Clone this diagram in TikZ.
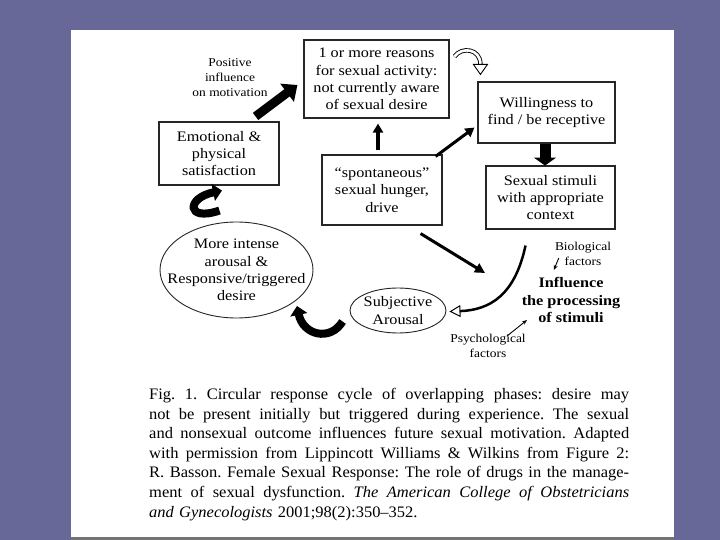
\documentclass[tikz,border=0pt]{standalone}
\usepackage{fontspec}
\setmainfont{Liberation Serif}[FakeStretch=1.12]
\newfontfamily\ketfont{Liberation Serif}[FakeStretch=1.03,Ligatures=TeX]
\usetikzlibrary{calc,positioning,arrows.meta,shapes.geometric}
\definecolor{latar}{RGB}{104,104,152}
\newcommand{\baris}[1]{{\spaceskip=0pt\relax\xspaceskip=0pt\relax\makebox[480pt][s]{#1}}\par}
\tikzset{
	kotak/.style={draw=black!85,line width=1.1pt,rectangle,align=center,inner sep=2pt,font=\fontsize{14.5}{17.4}\selectfont},
	elips/.style={draw=black!85,line width=0.9pt,ellipse,inner sep=0pt},
	isi/.style={align=center,inner sep=0pt,font=\fontsize{14.5}{17.4}\selectfont},
	kecil/.style={align=center,inner sep=0pt,font=\fontsize{12}{15}\selectfont},
	panahtebal/.style={line width=9pt,-{Triangle[length=13pt,width=22pt]}},
	panahlengkung/.style={line width=8pt,-{Triangle[length=9pt,width=17pt]}},
	panahtipis/.style={line width=0.9pt,-{Stealth[length=5pt,width=4pt]}}
}

\begin{document}
\begin{tikzpicture}[x=1pt,y=-1pt]
\useasboundingbox (0,0) rectangle (720,540);

% latar belakang
\fill[latar] (0,0) rectangle (720,540);
\fill[white] (71,30) rectangle (674,537);
\fill[black!55] (71,537) rectangle (674,540);

% kotak-kotak
\node[kotak,minimum width=145pt,minimum height=78pt] (alasan) at (376.5,79) {1 or more reasons\\for sexual activity:\\not currently aware\\of sexual desire};
\node[kotak,minimum width=120pt,minimum height=63pt] (emosi) at (219,153.5) {Emotional \&\\physical\\satisfaction};
\node[kotak,minimum width=120pt,minimum height=70pt] (spontan) at (382,190) {“spontaneous”\\sexual hunger,\\drive};
\node[kotak,minimum width=137pt,minimum height=61pt] (mau) at (546.5,112.5) {Willingness to\\find / be receptive};
\node[kotak,minimum width=129pt,minimum height=63pt] (rangsang) at (550.5,197.5) {Sexual stimuli\\with appropriate\\context};

% elips
\node[elips,minimum width=153pt,minimum height=96pt] (intens) at (236.5,270) {};
\node[isi] at (intens.center) {More intense\\arousal \&\\Responsive/triggered\\desire};
\node[elips,minimum width=96pt,minimum height=45pt] (subjektif) at (398,310.5) {};
\node[isi] at (subjektif.center) {Subjective\\Arousal};

% label kecil
\node[kecil] (positif) at (230,78) {Positive\\influence\\on motivation};
\node[kecil] (bio) at (583,254) {Biological\\factors};
\node[kecil] (psiko) at (488,346) {Psychological\\factors};
\node[align=center,inner sep=0pt,font=\bfseries\fontsize{14.5}{17.5}\selectfont] (pengaruh) at (571,300) {Influence\\the processing\\of stimuli};

% panah-panah
\draw[panahtebal] ($(emosi.north east)+(-24,-5)$) -- ($(alasan.west)+(-6,6)$);
\draw[line width=4pt,-{Triangle[length=9pt,width=10pt]}] ($(spontan.north)+(-4,-4)$) -- ($(spontan.north |- alasan.south)+(-4,5)$);
\draw[line width=3pt,-{Triangle[length=9pt,width=10pt]}] ($(spontan.north east)+(-7,2)$) -- ($(mau.south west)+(-3,-16)$);
\draw[line width=11pt,-{Triangle[length=8pt,width=22pt]}] ($(mau.south)+(-1.5,0)$) -- ($(mau.south)+(-1.5,22)$);
\coordinate (ujung) at (485,273);
\draw[line width=3pt,-{Triangle[length=10pt,width=10pt]}] ($(spontan.south east)+(-22,8)$) -- (ujung);
\draw[line width=2.5pt,-{Triangle[open,line width=1pt,length=11pt,width=12pt]}] ($(rangsang.south)+(-25,16)$) .. controls (515,295) and (490,310) .. ($(subjektif.east)+(3,1)$);

% panah lengkung tebal
\draw[panahlengkung] ($(intens.north)+(-17,-11)$) .. controls (186,222) and (186,198) .. ($(emosi.south)+(3,5)$);
\draw[panahlengkung] ($(subjektif.west)+(-7,11)$) .. controls (330,342) and (303,335) .. (297,306);

% panah lengkung kosong
\coordinate (ekor) at ($(alasan.north east)+(5,17)$);
\coordinate (tip) at ($(mau.north west)+(3,-7)$);
\draw[line width=0.9pt,double=white,double distance=2.6pt] (ekor) .. controls +(7,-10) and +(0,-16) .. ($(tip)+(0,-10)$);
\filldraw[fill=white,line width=0.9pt] ($(tip)+(-7,-10)$) -- ($(tip)+(7,-10)$) -- (tip) -- cycle;

% panah faktor
\draw[panahtipis] ($(bio.west)+(4,4)$) -- ($(bio.west)+(-1,16)$);
\coordinate (ujungpsi) at (527,320);
\draw[panahtipis] ($(psiko.north)+(19,2)$) -- (ujungpsi);

% keterangan gambar
\node[anchor=north west,text width=480pt,align=left,inner sep=0pt,font=\ketfont\frenchspacing\fontsize{16}{19.6}\selectfont] (keterangan) at (149,388) {%
\baris{Fig. 1. Circular response cycle of overlapping phases: desire may}
\baris{not be present initially but triggered during experience. The sexual}
\baris{and nonsexual outcome influences future sexual motivation. Adapted}
\baris{with permission from Lippincott Williams \& Wilkins from Figure 2:}
\baris{R. Basson. Female Sexual Response: The role of drugs in the manage-}
\baris{ment of sexual dysfunction. \textit{The American College of Obstetricians}}
\textit{and Gynecologists} 2001;98(2):350--352.};

\end{tikzpicture}
\end{document}
